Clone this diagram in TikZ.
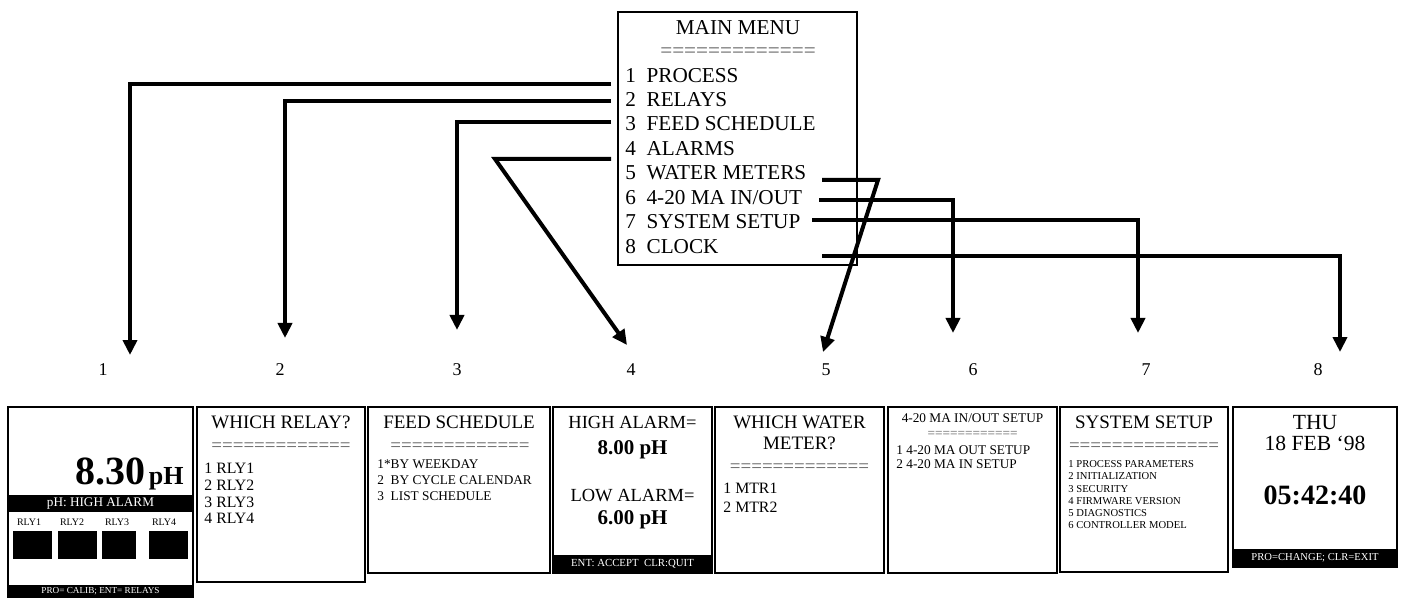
\documentclass[tikz,border=0pt]{standalone}
\usepackage{fontspec}
\setmainfont{Liberation Serif}
\usetikzlibrary{arrows.meta, calc}

\begin{document}
\begin{tikzpicture}[x=0.5pt, y=-0.5pt,
  menubox/.style={draw, line width=0.8pt, anchor=north west, inner sep=0pt, outer sep=0pt,
                  minimum width=119.5pt, minimum height=126.5pt},
  item/.style={anchor=base west, inner sep=0pt, font=\fontsize{10.6}{12}\selectfont},
  screen/.style={draw, line width=1.3pt, anchor=north west, inner sep=0pt, outer sep=0pt},
  title/.style={anchor=base, inner sep=0pt, font=\fontsize{9.5}{10.5}\selectfont},
  rule/.style={inner sep=0pt, text=black!62, font=\fontsize{9.5}{10.5}\selectfont},
  list/.style={anchor=north west, inner sep=0pt, align=left},
  bar/.style={fill=black, text=white, inner sep=0pt, outer sep=0pt},
  lamp/.style={fill=black, inner sep=0pt, minimum width=19.5pt, minimum height=14pt},
  num/.style={inner sep=0pt, font=\fontsize{9}{10}\selectfont},
  arrow/.style={-{Triangle[length=7.5pt, width=7pt]}, line width=2pt}
]
\useasboundingbox (0,0) rectangle (1406,598);

% Main menu
\node[menubox] (menu) at (618,12) {};
\node[item, anchor=base] (mtitle) at (738,35) {MAIN MENU};
\node[rule, font=\fontsize{10.6}{12}\selectfont] (mrule) at (738,53) {=============};
\node[item] (m1) at (625,83) {1\ \ PROCESS};
\node[item] (m2) at (625,107) {2\ \ RELAYS};
\node[item] (m3) at (625,131) {3\ \ FEED SCHEDULE};
\node[item] (m4) at (625,156) {4\ \ ALARMS};
\node[item] (m5) at (625,180) {5\ \ WATER METERS};
\node[item] (m6) at (625,205) {6\ \ 4-20 MA IN/OUT};
\node[item] (m7) at (625,229) {7\ \ SYSTEM SETUP};
\node[item] (m8) at (625,254) {8\ \ CLOCK};

% Arrow ends and numbers
\coordinate (t1) at (130,355);
\coordinate (t2) at (285,338);
\coordinate (t3) at (457,330);
\coordinate (t4) at (627,345);
\coordinate (t5) at (823,352);
\coordinate (t6) at (953,333);
\coordinate (t7) at (1138,333);
\coordinate (t8) at (1340,352);
\node[num] (n1) at (103,370) {1};
\node[num] (n2) at (280,370) {2};
\node[num] (n3) at (457,370) {3};
\node[num] (n4) at (631,370) {4};
\node[num] (n5) at (826,370) {5};
\node[num] (n6) at (973,370) {6};
\node[num] (n7) at (1146,370) {7};
\node[num] (n8) at (1318,370) {8};

% Screen 1: process
\node[screen, minimum width=92.5pt, minimum height=95.5pt] (s1) at (8,407) {};
\node[anchor=base east, inner sep=0pt, font=\bfseries\fontsize{20}{20}\selectfont] (s1val)
  at (184,484) {8.30\kern1.5pt{\fontsize{13}{13}\selectfont pH}};
\node[bar, minimum width=92.5pt, minimum height=8.5pt, font=\fontsize{6.6}{7}\selectfont]
  (s1alarm) at (100.5,503.5) {pH: HIGH ALARM};
\node[inner sep=0pt, font=\fontsize{5}{6}\selectfont] (l1) at (29,522) {RLY1};
\node[inner sep=0pt, font=\fontsize{5}{6}\selectfont] (l2) at (72,522) {RLY2};
\node[inner sep=0pt, font=\fontsize{5}{6}\selectfont] (l3) at (117,522) {RLY3};
\node[inner sep=0pt, font=\fontsize{5}{6}\selectfont] (l4) at (164,522) {RLY4};
\node[lamp] (r1) at (32.5,545) {};
\node[lamp] (r2) at (77.5,545) {};
\node[lamp, minimum width=17pt] (r3) at (119,545) {};
\node[lamp] (r4) at (168.5,545) {};
\node[bar, anchor=south, minimum width=92.5pt, minimum height=6.5pt, font=\fontsize{4.6}{5}\selectfont]
  (s1foot) at (s1.south) {PRO= CALIB; ENT= RELAYS};

% Screen 2: relays
\node[screen, minimum width=84pt, minimum height=87.5pt] (s2) at (197,407) {};
\node[title] (s2title) at (281,428) {WHICH RELAY?};
\node[rule] (s2rule) at (281,447) {=============};
\node[list, font=\fontsize{7.9}{8.35}\selectfont] (s2list) at (204,463) {1 RLY1\\2 RLY2\\3 RLY3\\4 RLY4};

% Screen 3: feed schedule
\node[screen, minimum width=91pt, minimum height=83pt] (s3) at (368,407) {};
\node[title] (s3title) at (459,428) {FEED SCHEDULE};
\node[rule] (s3rule) at (460,447) {=============};
\node[list, font=\fontsize{6.65}{8}\selectfont] (s3list) at (377,459.5)
  {1*BY WEEKDAY\\2\ \ BY CYCLE CALENDAR\\3\ \ LIST SCHEDULE};

% Screen 4: alarms
\node[screen, minimum width=79.5pt, minimum height=83pt] (s4) at (553,407) {};
\node[title, font=\fontsize{9.25}{10}\selectfont] (s4high) at (632.5,428) {HIGH ALARM=};
\node[title, font=\bfseries\fontsize{10.5}{11}\selectfont] (s4hval) at (632.5,454) {8.00 pH};
\node[title, font=\fontsize{9.25}{10}\selectfont] (s4low) at (632.5,501) {LOW ALARM=};
\node[title, font=\bfseries\fontsize{10.5}{11}\selectfont] (s4lval) at (632.5,524) {6.00 pH};
\node[bar, anchor=south, minimum width=79.5pt, minimum height=9pt, font=\fontsize{5.4}{6}\selectfont]
  (s4foot) at (s4.south) {ENT: ACCEPT\ \ CLR:QUIT};

% Screen 5: water meters
\node[screen, minimum width=84.5pt, minimum height=83pt] (s5) at (715,407) {};
\node[title, align=center, anchor=north] (s5title) at (799.5,415.5) {WHICH WATER\\METER?};
\node[rule] (s5rule) at (799.5,468) {=============};
\node[list, font=\fontsize{7.9}{9.5}\selectfont] (s5list) at (723,482.6) {1 MTR1\\2 MTR2};

% Screen 6: 4-20 mA
\node[screen, minimum width=84.5pt, minimum height=83pt] (s6) at (888,407) {};
\node[title, font=\fontsize{6.65}{8}\selectfont] (s6title) at (972.5,422.5) {4-20 MA IN/OUT SETUP};
\node[rule, font=\fontsize{6.65}{8}\selectfont] (s6rule) at (972.5,434) {============};
\node[list, font=\fontsize{6.65}{7}\selectfont] (s6list) at (896,445.5)
  {1 4-20 MA OUT SETUP\\2 4-20 MA IN SETUP};

% Screen 7: system setup
\node[screen, minimum width=84pt, minimum height=82.5pt] (s7) at (1060,407) {};
\node[title] (s7title) at (1144,428) {SYSTEM SETUP};
\node[rule] (s7rule) at (1144,447) {==============};
\node[list, font=\fontsize{5.3}{6.1}\selectfont] (s7list) at (1068,460.3)
  {1 PROCESS PARAMETERS\\2 INITIALIZATION\\3 SECURITY\\4 FIRMWARE VERSION\\5 DIAGNOSTICS\\6 CONTROLLER MODEL};

% Screen 8: clock
\node[screen, minimum width=82pt, minimum height=80pt] (s8) at (1233,407) {};
\node[title, font=\fontsize{10.8}{11}\selectfont] (s8day) at (1315,429) {THU};
\node[title, font=\fontsize{10.8}{11}\selectfont] (s8date) at (1315,450) {18 FEB `98};
\node[title, font=\bfseries\fontsize{14}{15}\selectfont] (s8time) at (1315,504) {05:42:40};
\node[bar, anchor=south, minimum width=82pt, minimum height=9pt, font=\fontsize{5.3}{6}\selectfont]
  (s8foot) at (s8.south) {PRO=CHANGE; CLR=EXIT};

% Arrows
\draw[arrow] ($(m1.base -| menu.west)+(-7,1)$) -| (t1);
\draw[arrow] ($(m2.base -| menu.west)+(-7,-6)$) -| (t2);
\draw[arrow] ($(m3.base -| menu.west)+(-7,-9)$) -| (t3);
\draw[arrow] ($(m4.base -| menu.west)+(-7,3)$) -- ++(-116,0) -- (t4);
\draw[arrow] ($(m5.base -| menu.east)+(-35,0)$) -- ++(56,0) -- (t5);
\draw[arrow] ($(m6.base -| menu.east)+(-38,-5)$) -| (t6);
\draw[arrow] ($(m7.base -| menu.east)+(-45,-9)$) -| (t7);
\draw[arrow] ($(m8.base -| menu.east)+(-35,2)$) -| (t8);
\end{tikzpicture}
\end{document}
